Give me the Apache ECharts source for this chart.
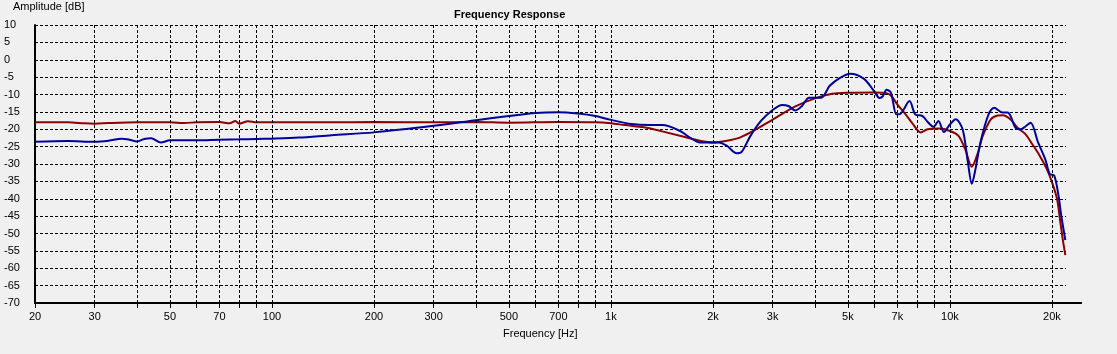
<!DOCTYPE html>
<html>
<head>
<meta charset="utf-8">
<script src="https://cdn.jsdelivr.net/npm/echarts@6/dist/echarts.min.js"></script>
<style>
html,body{margin:0;padding:0;background:#f0f0f0}
#chart{width:1117px;height:354px}
</style>
</head>
<body>
<div id="chart"></div>
<script>
// grid positions and labelled ticks on the frequency axis
var gridFreqs = [20,30,40,50,60,70,80,90,100,200,300,400,500,600,700,800,900,
    1000,2000,3000,4000,5000,6000,7000,8000,9000,10000,20000];
var labelFreqs = [20,30,50,70,100,200,300,500,700,1000,2000,3000,5000,7000,10000,20000];

// red curve
var redFreq = [20,25,28,30,33,40,50,55,60,70,75,78,80,85,90,100,150,200,300,400,500,700,900,
    1000,1100,1250,1300,1630,1830,2000,2200,2400,2630,3000,3500,4000,4500,5000,6000,6500,6730,
    7000,7400,7750,8200,8600,9300,10000,10600,11100,11600,12100,12500,13100,13500,14300,15100,
    15800,16700,17500,18400,19300,20000,20700,21100,21500,21900];
var redDb = [-18.0,-18.0,-18.3,-18.4,-18.2,-18.0,-18.0,-18.2,-18.0,-17.9,-18.3,-17.6,-18.4,-17.7,-18.0,-18.0,-18.0,-17.9,-18.0,-17.9,-18.1,-17.9,-18.0,
    -18.3,-18.8,-19.4,-19.7,-22.1,-23.3,-23.8,-23.3,-22.4,-20.5,-17.2,-13.4,-11.1,-9.8,-9.5,-9.4,-9.6,-10.5,
    -12.9,-15.7,-18.3,-20.9,-20.0,-19.8,-20.5,-21.9,-25.8,-30.8,-26.7,-21.9,-17.6,-16.4,-16.0,-17.2,
    -19.5,-21.4,-24.3,-27.6,-31.4,-35.2,-40.0,-45.7,-51.4,-56.2];

// blue curve
var blueFreq = [20,25,30,33,36,38,40,42,44,47,50,60,70,80,90,100,120,150,200,300,400,500,600,700,800,900,
    1000,1150,1300,1420,1600,1710,1830,2080,2200,2350,2430,2580,2770,2970,3200,3340,3500,3660,3840,4170,
    4420,4740,5080,5580,5980,6200,6340,6500,6700,6950,7100,7600,7900,8300,8600,8950,9250,9600,10000,
    10400,10900,11300,11600,11900,12300,13000,13500,14300,14800,15100,15600,16200,16700,17300,18200,
    19100,19700,20300,20900,21300,21900];
var blueDb = [-23.6,-23.4,-23.6,-23.3,-22.7,-23.0,-23.5,-22.8,-22.6,-23.8,-23.2,-23.2,-23.0,-22.9,-22.8,-22.7,-22.4,-21.7,-20.9,-19.0,-17.4,-16.2,-15.3,-15.1,-15.5,-16.2,
    -17.3,-18.5,-18.8,-18.8,-20.5,-22.4,-23.8,-23.8,-24.8,-26.9,-26.5,-21.9,-17.6,-14.8,-13.0,-13.3,-14.6,-13.3,-10.9,-10.9,
    -7.5,-5.2,-4.0,-5.5,-9.1,-11.0,-10.5,-8.6,-9.5,-15.7,-15.7,-11.9,-15.7,-16.2,-17.9,-19.3,-17.6,-20.8,-18.6,
    -17.1,-20.0,-29.5,-35.7,-31.4,-23.8,-15.7,-13.8,-15.2,-15.2,-16.2,-19.5,-20.0,-19.2,-18.1,-23.8,
    -28.6,-32.9,-33.3,-39.0,-44.8,-51.9];

function pairs(fs, vs) {
    return fs.map(function (f, i) { return [f, vs[i]]; });
}

var font = 'Liberation Sans, Arial, sans-serif';
var chart = echarts.init(document.getElementById('chart'), null, {renderer: 'canvas'});

chart.setOption({
    backgroundColor: '#f0f0f0',
    animation: false,
    textStyle: {fontFamily: font},
    title: {
        text: 'Frequency Response',
        left: 449,
        top: 4,
        textStyle: {fontSize: 11, fontWeight: 'bold', color: '#000', fontFamily: font}
    },
    grid: {left: 35, right: 51, top: 25, bottom: 51},
    xAxis: {
        type: 'log',
        logBase: 10,
        min: 20,
        max: 22000,
        axisLine: {onZero: false, lineStyle: {color: '#000', width: 2}},
        axisTick: {show: true, customValues: gridFreqs, length: 5, lineStyle: {color: '#000', width: 1}},
        axisLabel: {
            customValues: labelFreqs,
            margin: 8,
            fontSize: 11,
            color: '#000',
            fontFamily: font,
            formatter: function (v) { return v >= 1000 ? (v / 1000) + 'k' : String(v); }
        },
        splitLine: {show: false},
        minorTick: {show: false},
        minorSplitLine: {show: false}
    },
    yAxis: {
        type: 'value',
        min: -70,
        max: 10,
        interval: 5,
        axisLine: {show: true, lineStyle: {color: '#000', width: 2}},
        axisTick: {show: false},
        axisLabel: {align: 'left', margin: 31, fontSize: 11, color: '#000', fontFamily: font},
        splitLine: {show: true, lineStyle: {color: '#000', width: 1, type: [3, 2]}}
    },
    graphic: [
        {type: 'text', left: 13, top: 1, style: {text: 'Amplitude [dB]', font: '11px ' + font, fill: '#000'}},
        {type: 'text', left: 503, top: 328, style: {text: 'Frequency [Hz]', font: '11px ' + font, fill: '#000'}},
        {type: 'line', shape: {x1: 1066, y1: 303, x2: 1082, y2: 303}, style: {stroke: '#000', lineWidth: 2}}
    ],
    series: [
        {
            type: 'line',
            data: [],
            z: 1,
            markLine: {
                silent: true,
                symbol: ['none', 'none'],
                label: {show: false},
                lineStyle: {color: '#000', width: 1, type: [3, 2]},
                data: gridFreqs.slice(1).map(function (f) { return {xAxis: f}; })
            }
        },
        {
            name: 'red',
            type: 'line',
            data: pairs(redFreq, redDb),
            showSymbol: false,
            smooth: 0.3,
            z: 3,
            lineStyle: {color: '#8b0000', width: 2}
        },
        {
            name: 'blue',
            type: 'line',
            data: pairs(blueFreq, blueDb),
            showSymbol: false,
            smooth: 0.3,
            z: 4,
            lineStyle: {color: '#00009a', width: 2}
        }
    ]
});
</script>
</body>
</html>
